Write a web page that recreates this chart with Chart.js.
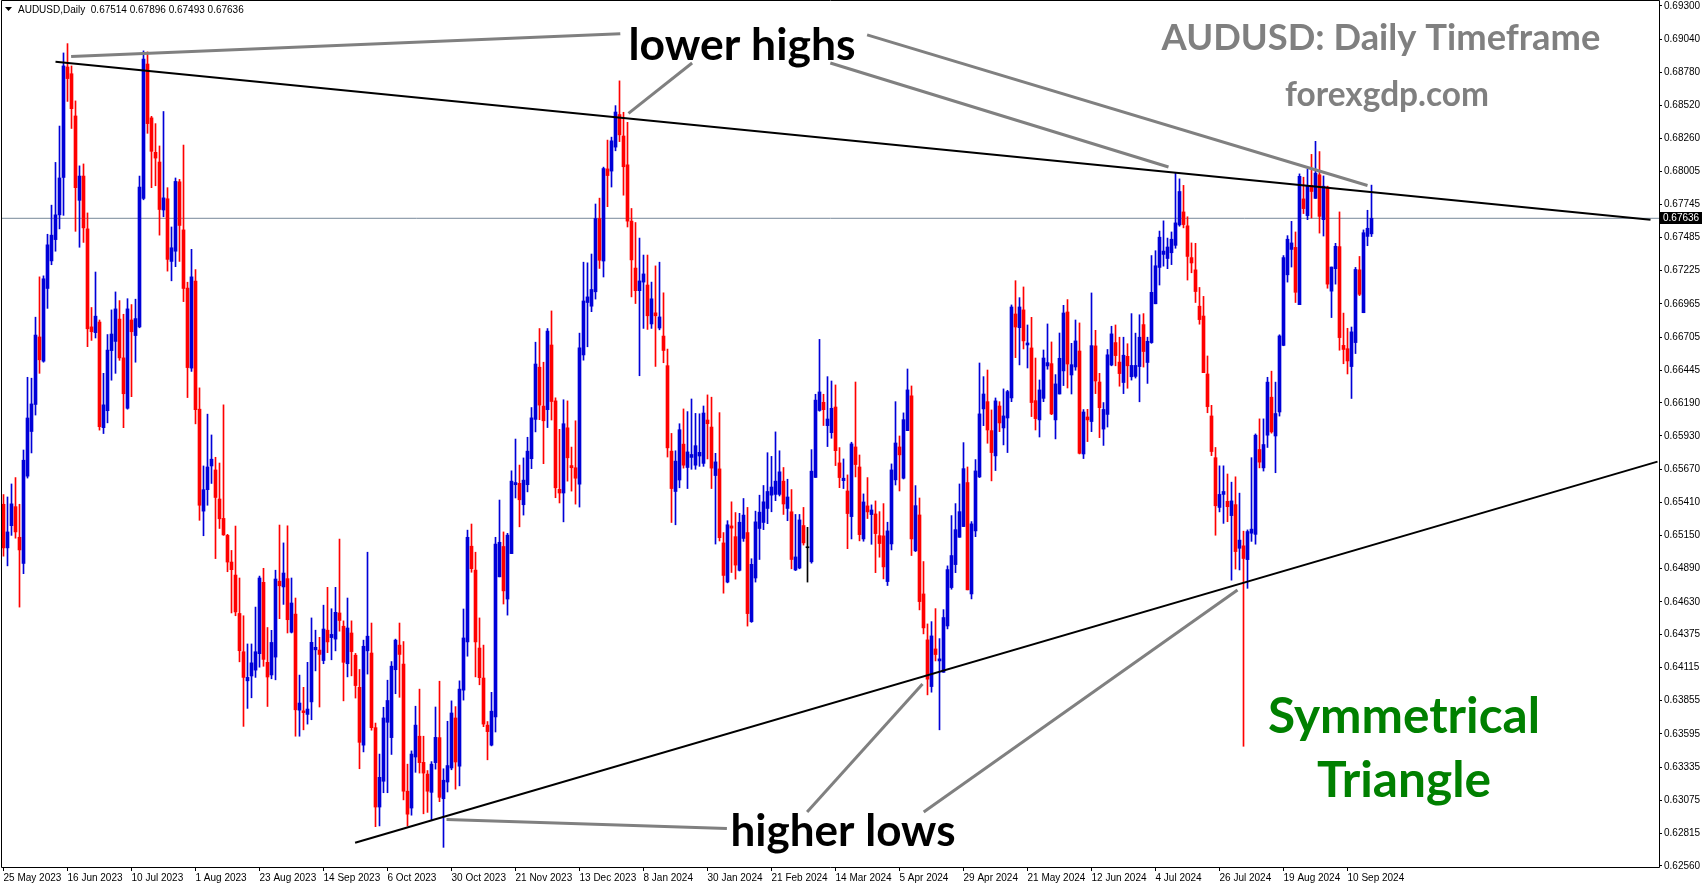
<!DOCTYPE html>
<html>
<head>
<meta charset="utf-8">
<title>AUDUSD Daily</title>
<script src="https://cdn.jsdelivr.net/npm/chart.js@4.4.1/dist/chart.umd.min.js"></script>
<style>
html,body{margin:0;padding:0;background:#ffffff;overflow:hidden}
#wrap{width:1705px;height:888px;position:relative}
canvas{display:block}
</style>
</head>
<body>
<div id="wrap"><canvas id="c" width="1705" height="888"></canvas></div>
<script>
// ---------------- DATA ----------------
const symbolName = 'AUDUSD,Daily';
const dateLabels = ['25 May 2023','16 Jun 2023','10 Jul 2023','1 Aug 2023','23 Aug 2023','14 Sep 2023','6 Oct 2023','30 Oct 2023','21 Nov 2023','13 Dec 2023','8 Jan 2024','30 Jan 2024','21 Feb 2024','14 Mar 2024','5 Apr 2024','29 Apr 2024','21 May 2024','12 Jun 2024','4 Jul 2024','26 Jul 2024','19 Aug 2024','10 Sep 2024'];
const dateLabelBars = [0,16,32,48,64,80,96,112,128,144,160,176,192,208,224,240,256,272,288,304,320,336];
const priceTicks = [0.69300,0.69040,0.68780,0.68520,0.68260,0.68005,0.67745,0.67485,0.67225,0.66965,0.66705,0.66445,0.66190,0.65930,0.65670,0.65410,0.65150,0.64890,0.64630,0.64375,0.64115,0.63855,0.63595,0.63335,0.63075,0.62815,0.62560];

const open = [
0.65395,0.65053,0.65227,0.65376,0.65136,0.64931,0.65615,0.65965,0.66177,0.66706,
0.66516,0.67086,0.67302,0.67469,0.67663,0.67956,0.68822,0.68769,0.68438,0.67777,
0.67967,0.67553,0.66785,0.66740,0.66823,0.65995,0.66128,0.66599,0.66671,0.66846,
0.66542,0.66147,0.66839,0.66717,0.66785,0.67792,0.68845,0.68423,0.68153,0.68077,
0.67701,0.67789,0.67298,0.67378,0.67922,0.67545,0.67089,0.66462,0.67143,0.66140,
0.65341,0.65509,0.65695,0.65664,0.65436,0.65284,0.65151,0.64942,0.64840,0.64539,
0.64239,0.64011,0.64049,0.64095,0.64224,0.64783,0.64156,0.64057,0.64197,0.64792,
0.64747,0.64812,0.64392,0.64534,0.63781,0.63776,0.63748,0.63846,0.64254,0.64252,
0.64170,0.64408,0.64350,0.64338,0.64543,0.64439,0.64145,0.64386,0.64212,0.63960,
0.63507,0.64246,0.64229,0.63644,0.63022,0.63224,0.63686,0.63566,0.64098,0.64291,
0.64142,0.63146,0.63014,0.63414,0.63577,0.63372,0.63280,0.63137,0.63370,0.63566,
0.63087,0.63218,0.63328,0.63720,0.63342,0.63938,0.64316,0.65066,0.64879,0.64268,
0.64033,0.63664,0.63507,0.63728,0.64826,0.65064,0.64652,0.65008,0.65548,0.65559,
0.65391,0.65548,0.65752,0.66060,0.66469,0.66164,0.66136,0.66643,0.66205,0.65512,
0.65483,0.65994,0.65698,0.65681,0.65553,0.66565,0.66976,0.66947,0.67060,0.67634,
0.67301,0.68023,0.68006,0.68194,0.68449,0.68281,0.68055,0.67614,0.67246,0.67069,
0.67136,0.67113,0.66808,0.66895,0.66776,0.66713,0.66481,0.65811,0.65495,0.65585,
0.65866,0.65683,0.65762,0.65701,0.65773,0.65715,0.66055,0.66000,0.65620,0.65672,
0.65092,0.64785,0.65225,0.65141,0.64877,0.65127,0.65173,0.64475,0.64817,0.65205,
0.65252,0.65362,0.65466,0.65472,0.65472,0.65576,0.65362,0.65336,0.64880,0.64895,
0.65228,0.65054,0.64944,0.65605,0.66130,0.66194,0.66011,0.65956,0.66157,0.65719,
0.65580,0.65499,0.65298,0.65844,0.65687,0.65123,0.65382,0.65314,0.65319,0.65149,
0.65147,0.64789,0.65084,0.65586,0.65844,0.65599,0.65972,0.66244,0.65030,0.65311,
0.64692,0.64332,0.63966,0.64261,0.64167,0.64078,0.64441,0.64742,0.64922,0.65136,
0.65220,0.65565,0.64692,0.65186,0.65609,0.66142,0.66199,0.65972,0.65774,0.66165,
0.65993,0.66071,0.66228,0.66886,0.66779,0.66918,0.66643,0.66620,0.66207,0.66056,
0.66225,0.66479,0.66497,0.66056,0.66259,0.66440,0.66902,0.66408,0.66471,0.66596,
0.65789,0.66079,0.66043,0.66636,0.66353,0.65984,0.66099,0.66486,0.66662,0.66509,
0.66349,0.66554,0.66394,0.66397,0.66474,0.66803,0.66506,0.66662,0.66966,0.67251,
0.67353,0.67321,0.67366,0.67424,0.67584,0.67686,0.67577,0.67328,0.67232,0.66947,
0.66870,0.66416,0.66087,0.65760,0.65370,0.65472,0.65418,0.65306,0.65392,0.65050,
0.65069,0.64961,0.65168,0.65159,0.65824,0.65680,0.65936,0.66234,0.65930,0.66118,
0.66640,0.67193,0.67392,0.67408,0.66960,0.67788,0.67657,0.67894,0.67792,0.67977,
0.67625,0.67881,0.67065,0.67241,0.67414,0.66640,0.66614,0.66474,0.66662,0.67232,
0.66896,0.67494,0.67514
];
const high = [
0.65471,0.65452,0.65554,0.65604,0.65395,0.65820,0.66390,0.66383,0.66861,0.67177,
0.67185,0.67511,0.67739,0.68074,0.68359,0.68932,0.69005,0.68830,0.68556,0.68047,
0.68062,0.67678,0.66937,0.67215,0.66839,0.66421,0.66725,0.66918,0.67059,0.66991,
0.66884,0.67006,0.66960,0.67002,0.67967,0.68948,0.68940,0.68435,0.68378,0.68203,
0.68473,0.67876,0.67568,0.67952,0.67941,0.68210,0.67135,0.67393,0.67234,0.66307,
0.65695,0.66101,0.65938,0.65763,0.65718,0.66174,0.65159,0.65033,0.65224,0.64817,
0.64521,0.64300,0.64300,0.64589,0.64832,0.64893,0.64429,0.64407,0.64878,0.65232,
0.65092,0.65226,0.64817,0.64660,0.64056,0.63960,0.64156,0.64504,0.64408,0.64352,
0.64604,0.64744,0.64576,0.64744,0.65122,0.64481,0.64660,0.64481,0.64226,0.64100,
0.64330,0.65019,0.64464,0.63680,0.63437,0.63804,0.64016,0.64162,0.64338,0.64464,
0.64319,0.63358,0.63462,0.63812,0.63946,0.63577,0.63308,0.63378,0.63806,0.64008,
0.63322,0.63694,0.63854,0.63809,0.64011,0.64574,0.65192,0.65240,0.65019,0.64504,
0.64291,0.63692,0.63921,0.65136,0.65428,0.65178,0.65167,0.65657,0.65906,0.65702,
0.65758,0.65920,0.66153,0.66665,0.66772,0.66508,0.66772,0.66910,0.66229,0.65982,
0.66214,0.66205,0.65843,0.66049,0.66736,0.67292,0.67287,0.67356,0.67748,0.67794,
0.68037,0.68249,0.68272,0.68519,0.68713,0.68467,0.68388,0.67713,0.67603,0.67481,
0.67348,0.67348,0.67136,0.67263,0.67292,0.67052,0.66611,0.65950,0.65814,0.66026,
0.66142,0.66121,0.66220,0.66107,0.66104,0.66165,0.66252,0.66234,0.65794,0.66113,
0.65173,0.65266,0.65414,0.65330,0.65324,0.65440,0.65370,0.64968,0.65341,0.65466,
0.65542,0.65799,0.65770,0.65962,0.65814,0.65683,0.65591,0.65510,0.65315,0.65315,
0.65370,0.65214,0.65823,0.66257,0.66687,0.66257,0.66395,0.66361,0.66330,0.65839,
0.65750,0.65625,0.65881,0.66353,0.65781,0.65476,0.65604,0.65390,0.65421,0.65337,
0.65400,0.65254,0.65711,0.66199,0.65930,0.66111,0.66455,0.66322,0.65541,0.65444,
0.64946,0.64457,0.64475,0.64577,0.64342,0.64569,0.64912,0.65306,0.65400,0.65554,
0.65878,0.65687,0.65259,0.65745,0.66502,0.66395,0.66447,0.66134,0.66228,0.66199,
0.66299,0.66288,0.66957,0.67147,0.67014,0.67098,0.66800,0.66860,0.66541,0.66369,
0.66604,0.66808,0.66667,0.66411,0.66737,0.66954,0.66999,0.66656,0.66839,0.66816,
0.66137,0.66139,0.67051,0.66758,0.66421,0.66192,0.66608,0.66790,0.66800,0.66704,
0.66704,0.66653,0.66889,0.66736,0.66880,0.66889,0.66704,0.67344,0.67382,0.67536,
0.67616,0.67481,0.67529,0.67990,0.67945,0.67894,0.67648,0.67443,0.67440,0.67094,
0.67024,0.66557,0.66170,0.65840,0.65696,0.65696,0.65632,0.65568,0.65610,0.65482,
0.65184,0.65194,0.65760,0.65946,0.66064,0.66064,0.66390,0.66438,0.66352,0.66723,
0.67344,0.67500,0.67612,0.67529,0.67984,0.67958,0.68022,0.68137,0.68239,0.68159,
0.67968,0.67888,0.67254,0.67440,0.67686,0.66893,0.66774,0.66784,0.67251,0.67337,
0.67545,0.67699,0.67896
];
const low = [
0.64988,0.64912,0.65151,0.65129,0.64589,0.64851,0.65600,0.65797,0.66094,0.66421,
0.66508,0.66930,0.67272,0.67378,0.67553,0.67659,0.68552,0.68340,0.67534,0.67409,
0.67447,0.66630,0.66679,0.66698,0.65976,0.65949,0.66033,0.66367,0.66421,0.66523,
0.65995,0.66140,0.66238,0.66508,0.66778,0.67781,0.68302,0.67876,0.67891,0.67504,
0.67648,0.67222,0.67146,0.67257,0.67298,0.66983,0.66231,0.66436,0.66025,0.65269,
0.65148,0.65387,0.65558,0.64969,0.65205,0.65151,0.64866,0.64543,0.64521,0.64160,
0.63654,0.63795,0.63878,0.64038,0.64118,0.64125,0.63810,0.64027,0.64019,0.64498,
0.64610,0.64386,0.64386,0.63577,0.63577,0.63627,0.63672,0.63706,0.64089,0.63806,
0.64145,0.64232,0.64176,0.64246,0.64400,0.63854,0.64042,0.64050,0.63876,0.63322,
0.63454,0.64064,0.63624,0.62868,0.62874,0.63134,0.63134,0.63434,0.63910,0.63882,
0.63078,0.62874,0.62958,0.63294,0.63288,0.62969,0.62980,0.62922,0.63319,0.63064,
0.62706,0.63140,0.63314,0.63162,0.63188,0.63860,0.64204,0.64862,0.64042,0.63980,
0.63652,0.63392,0.63501,0.63610,0.64826,0.64613,0.64526,0.65008,0.65444,0.65218,
0.65310,0.65492,0.65674,0.65962,0.66058,0.65713,0.65996,0.66055,0.65446,0.65405,
0.65257,0.65576,0.65498,0.65396,0.65373,0.66524,0.66629,0.66904,0.67003,0.67243,
0.67176,0.67727,0.67881,0.68165,0.68237,0.67817,0.67568,0.67020,0.66968,0.66402,
0.66773,0.66765,0.66773,0.66475,0.66762,0.66504,0.65765,0.65252,0.65234,0.65524,
0.65678,0.65518,0.65669,0.65669,0.65692,0.65692,0.65750,0.65518,0.65083,0.65107,
0.64698,0.64779,0.64860,0.64808,0.64872,0.65104,0.64440,0.64469,0.64785,0.64962,
0.65196,0.65243,0.65336,0.65423,0.65460,0.65315,0.65266,0.64889,0.64875,0.64889,
0.65075,0.64785,0.64933,0.65605,0.66124,0.66012,0.65847,0.65912,0.65698,0.65525,
0.65518,0.65047,0.65123,0.65609,0.65108,0.65105,0.65283,0.65081,0.64859,0.64980,
0.64810,0.64758,0.65037,0.65546,0.65499,0.65593,0.65972,0.64993,0.65024,0.64567,
0.64379,0.63901,0.63922,0.64167,0.63627,0.64078,0.64418,0.64729,0.64859,0.65136,
0.65220,0.64724,0.64653,0.65141,0.65604,0.66011,0.65873,0.65578,0.65659,0.65964,
0.65860,0.65800,0.66199,0.66544,0.66487,0.66612,0.66463,0.66082,0.65977,0.65922,
0.66199,0.66453,0.66097,0.65907,0.66259,0.66325,0.66306,0.66259,0.66445,0.65789,
0.65753,0.65886,0.65964,0.66262,0.65917,0.65856,0.66000,0.66480,0.66480,0.66320,
0.66262,0.66304,0.66368,0.66384,0.66198,0.66470,0.66342,0.66656,0.66966,0.67113,
0.67261,0.67241,0.67273,0.67401,0.67574,0.67561,0.67152,0.67209,0.66976,0.66806,
0.66426,0.66112,0.65776,0.65152,0.65335,0.65245,0.65258,0.64800,0.64887,0.64880,
0.63498,0.64736,0.65104,0.65082,0.65680,0.65655,0.65840,0.65952,0.65642,0.66086,
0.66637,0.67136,0.67254,0.66976,0.66960,0.67673,0.67625,0.67638,0.67792,0.67520,
0.67497,0.67088,0.66858,0.67120,0.66602,0.66496,0.66416,0.66224,0.66576,0.67030,
0.66896,0.67421,0.67493
];
const close = [
0.65053,0.65178,0.65398,0.65178,0.65037,0.65740,0.66071,0.66181,0.66721,0.66527,
0.67162,0.67428,0.67504,0.67663,0.67952,0.68830,0.68731,0.68495,0.67876,0.67967,
0.67561,0.66770,0.66747,0.66869,0.66003,0.66174,0.66603,0.66729,0.66926,0.66542,
0.66261,0.66926,0.66747,0.66850,0.67880,0.68883,0.68378,0.68161,0.68108,0.67705,
0.67796,0.67314,0.67405,0.67925,0.67580,0.67086,0.66466,0.67177,0.66136,0.65387,
0.65509,0.65687,0.65748,0.65448,0.65281,0.65155,0.64942,0.64882,0.64551,0.64247,
0.64038,0.64038,0.64152,0.64239,0.64817,0.64179,0.64041,0.64312,0.64809,0.64756,
0.64856,0.64490,0.64621,0.63784,0.63837,0.63762,0.63790,0.64313,0.64274,0.64218,
0.64417,0.64316,0.64375,0.64548,0.64484,0.64156,0.64425,0.64240,0.63974,0.63529,
0.64282,0.64361,0.63644,0.63022,0.63255,0.63720,0.63857,0.64126,0.64330,0.64218,
0.63146,0.62966,0.63437,0.63664,0.63370,0.63288,0.63146,0.63358,0.63568,0.63098,
0.63232,0.63347,0.63759,0.63375,0.63946,0.64347,0.65136,0.64890,0.64316,0.64036,
0.63672,0.63613,0.63773,0.65083,0.65097,0.64716,0.65153,0.65576,0.65565,0.65430,
0.65584,0.65811,0.66072,0.66494,0.66172,0.66049,0.66752,0.66200,0.65524,0.65483,
0.66026,0.65759,0.65681,0.65599,0.66620,0.66988,0.67020,0.67078,0.67634,0.67307,
0.68026,0.67971,0.68243,0.68469,0.68290,0.68040,0.67614,0.67310,0.67069,0.67145,
0.67200,0.66872,0.67005,0.66872,0.66863,0.66600,0.65837,0.65518,0.65733,0.65979,
0.65701,0.65805,0.65785,0.65854,0.65802,0.66110,0.66026,0.65678,0.65727,0.65133,
0.64837,0.65234,0.65208,0.64918,0.65254,0.65310,0.64538,0.64924,0.65257,0.65333,
0.65414,0.65495,0.65530,0.65576,0.65649,0.65397,0.65452,0.64962,0.64982,0.65272,
0.65092,0.65054,0.65654,0.66211,0.66275,0.66136,0.66063,0.66147,0.65815,0.65604,
0.65599,0.65322,0.65868,0.65706,0.65157,0.65413,0.65335,0.65350,0.65165,0.65087,
0.64904,0.65186,0.65664,0.65875,0.65782,0.66058,0.66291,0.65123,0.65384,0.64632,
0.64426,0.64024,0.64363,0.64217,0.64183,0.64507,0.64883,0.64993,0.65196,0.65337,
0.65674,0.64724,0.65241,0.65656,0.66103,0.66259,0.65977,0.65800,0.66205,0.66032,
0.66087,0.66278,0.66941,0.66784,0.66941,0.66675,0.66659,0.66192,0.66066,0.66291,
0.66541,0.66505,0.66103,0.66338,0.66539,0.66894,0.66494,0.66489,0.66675,0.65794,
0.66118,0.66056,0.66638,0.66361,0.66152,0.66138,0.66566,0.66730,0.66560,0.66419,
0.66563,0.66480,0.66483,0.66483,0.66704,0.66592,0.66672,0.67056,0.67264,0.67488,
0.67379,0.67411,0.67472,0.67600,0.67846,0.67587,0.67337,0.67286,0.67062,0.66842,
0.66426,0.66160,0.65808,0.65383,0.65472,0.65495,0.65376,0.65421,0.65024,0.65114,
0.64970,0.65181,0.65200,0.65936,0.65725,0.65863,0.66352,0.65962,0.66106,0.66714,
0.67328,0.67472,0.67443,0.67056,0.67964,0.67712,0.67888,0.67846,0.67990,0.67651,
0.67888,0.67120,0.67254,0.67417,0.66701,0.66608,0.66518,0.66746,0.67235,0.67040,
0.67523,0.67558,0.67636
];

// trend lines (bar index, price)
const upperTrend = [[13.0, 0.68863], [411.75, 0.67625]];
const lowerTrend = [[87.9, 0.62742], [413.5, 0.65729]];
// annotation pointer lines (bar index, price)
const pointerLines = [
  [[16.9, 0.68904], [154.2, 0.69083]],
  [[156.25, 0.68458], [172.15, 0.68853]],
  [[206.7, 0.68853], [291.25, 0.68038]],
  [[215.9, 0.69074], [341.0, 0.67893]],
  [[110.75, 0.62925], [180.85, 0.62853]],
  [[200.9, 0.62983], [229.75, 0.63987]],
  [[230.05, 0.62983], [308.5, 0.64723]]
];

// ---------------- CHART ----------------
const N = Math.min(open.length, high.length, low.length, close.length);
const lastPrice = close[N - 1];
const X_MIN = -0.375, X_MAX = 413.875;
const Y_MIN = 0.62552, Y_MAX = 0.69339;
const UP = '#0000d8', DOWN = '#ff0000', FLAT = '#000000';

const idx = [];
for (let i = 0; i < N; i++) idx.push(i);
const colors = idx.map(i => close[i] > open[i] ? UP : (close[i] < open[i] ? DOWN : FLAT));

const toPts = seg => seg.map(p => ({x: p[0], y: p[1]}));

const datasets = [
  {type:'line', data: toPts(upperTrend), borderColor:'#000000', borderWidth:2, pointRadius:0, order:0},
  {type:'line', data: toPts(lowerTrend), borderColor:'#000000', borderWidth:2, pointRadius:0, order:0}
];
pointerLines.forEach(seg => datasets.push({type:'line', data: toPts(seg), borderColor:'#808080', borderWidth:3, pointRadius:0, order:1}));
datasets.push({type:'bar', data: idx.map(i => ({x:i, y:[open[i], close[i]]})), backgroundColor: colors, barThickness:3, grouped:false, minBarLength:1, borderWidth:0, order:2});
datasets.push({type:'bar', data: idx.map(i => ({x:i, y:[low[i], high[i]]})), backgroundColor: colors, barThickness:1, grouped:false, borderWidth:0, order:3});
datasets.push({type:'line', data: [{x:X_MIN, y:lastPrice}, {x:X_MAX, y:lastPrice}], borderColor:'#778899', borderWidth:1, pointRadius:0, order:4});

function fitText(ctx, text, cx, baseY, targetW, color) {
  ctx.font = 'bold 100px Lato';
  const w = ctx.measureText(text).width;
  const size = 100 * targetW / w;
  ctx.font = 'bold ' + size.toFixed(2) + 'px Lato';
  ctx.fillStyle = color;
  ctx.textAlign = 'center';
  ctx.textBaseline = 'alphabetic';
  ctx.fillText(text, cx, baseY);
}

const overlay = {
  id: 'overlay',
  afterDatasetsDraw(chart) {
    const ctx = chart.ctx;
    ctx.save();
    fitText(ctx, 'lower highs', 742, 60, 227, '#000000');
    fitText(ctx, 'higher lows', 843, 846, 225, '#000000');
    fitText(ctx, 'AUDUSD: Daily Timeframe', 1381, 50, 439, '#808080');
    fitText(ctx, 'forexgdp.com', 1387, 106, 204, '#808080');
    fitText(ctx, 'Symmetrical', 1404, 733, 272, '#008000');
    fitText(ctx, 'Triangle', 1404, 797, 174, '#008000');
    ctx.restore();
  },
  afterDraw(chart) {
    const ctx = chart.ctx, a = chart.chartArea;
    ctx.save();
    // frame
    ctx.strokeStyle = '#000000';
    ctx.lineWidth = 1;
    ctx.beginPath();
    ctx.moveTo(a.left - 0.5, a.top - 0.5);
    ctx.lineTo(a.right + 0.5, a.top - 0.5);
    ctx.lineTo(a.right + 0.5, a.bottom + 0.5);
    ctx.lineTo(a.left - 0.5, a.bottom + 0.5);
    ctx.closePath();
    ctx.stroke();
    // header
    ctx.fillStyle = '#000000';
    ctx.beginPath();
    ctx.moveTo(5, 7); ctx.lineTo(12, 7); ctx.lineTo(8.5, 11); ctx.closePath(); ctx.fill();
    ctx.font = '10px "Liberation Sans"';
    ctx.textAlign = 'left';
    ctx.textBaseline = 'middle';
    const f = v => v.toFixed(5);
    ctx.fillText(symbolName + '  ' + f(open[N-1]) + ' ' + f(high[N-1]) + ' ' + f(low[N-1]) + ' ' + f(close[N-1]), 18, 10);
    // current price box
    const y = Math.round(chart.scales.y.getPixelForValue(lastPrice));
    ctx.fillStyle = '#000000';
    ctx.fillRect(a.right + 1, y - 6, 42, 12);
    ctx.fillStyle = '#ffffff';
    ctx.fillText(f(lastPrice), a.right + 4, y + 0.5);
    ctx.restore();
  }
};

new Chart(document.getElementById('c'), {
  type: 'bar',
  data: { datasets },
  options: {
    responsive: false,
    animation: false,
    devicePixelRatio: 1,
    events: [],
    layout: { padding: { left: 2, top: 1, right: 0, bottom: 0 } },
    plugins: { legend: { display: false }, tooltip: { enabled: false } },
    scales: {
      x: {
        type: 'linear', min: X_MIN, max: X_MAX, offset: false,
        afterBuildTicks: s => { s.ticks = dateLabelBars.map(v => ({value: v})); },
        afterFit: s => { s.height = 21; s.paddingLeft = 0; s.paddingRight = 0; },
        ticks: { autoSkip: false, maxRotation: 0, minRotation: 0, align: 'start', padding: 1, color: '#000000',
                 font: { family: 'Liberation Sans', size: 10 }, callback: (v, i) => dateLabels[i] },
        grid: { display: true, drawOnChartArea: false, drawTicks: true, tickLength: 4, color: '#000000', offset: false },
        border: { display: false }
      },
      y: {
        position: 'right', min: Y_MIN, max: Y_MAX,
        afterBuildTicks: s => { s.ticks = priceTicks.map(v => ({value: v})); },
        afterFit: s => { s.width = 46; s.paddingTop = 0; s.paddingBottom = 0; },
        ticks: { autoSkip: false, padding: 2, color: '#000000',
                 font: { family: 'Liberation Sans', size: 10 }, callback: v => Number(v).toFixed(5) },
        grid: { display: true, drawOnChartArea: false, drawTicks: true, tickLength: 3, color: '#000000' },
        border: { display: false }
      }
    }
  },
  plugins: [overlay]
});
</script>
</body>
</html>
